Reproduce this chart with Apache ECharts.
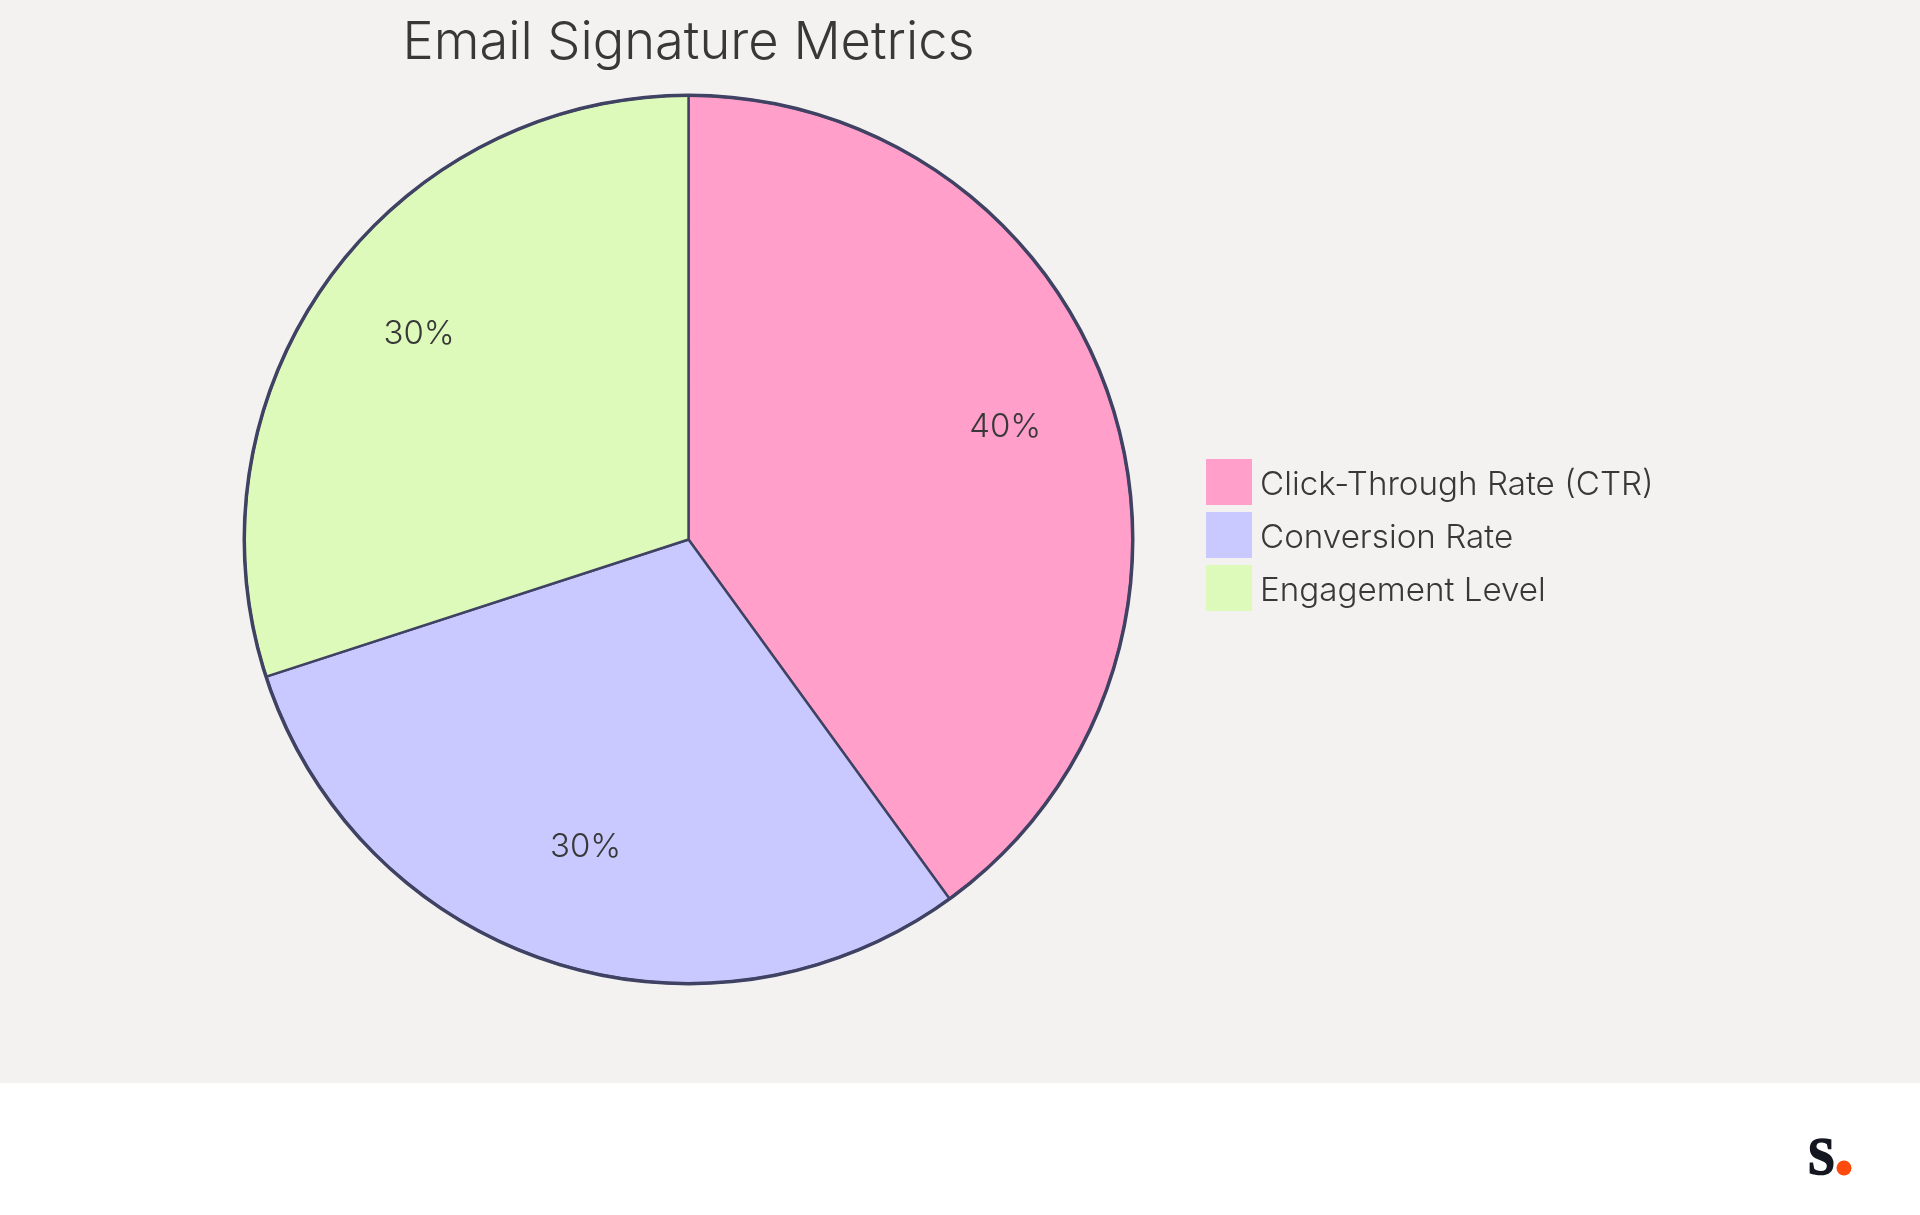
<!DOCTYPE html>
<html><head><meta charset="utf-8">
<style>html,body{margin:0;padding:0;background:#fff}#c{width:1920px;height:1215px}</style>
<script src="https://cdn.jsdelivr.net/npm/echarts@6/dist/echarts.min.js"></script>
</head><body><div id="c"></div>
<script>
const titleText = 'Email Signature Metrics';
const categories = ['Click-Through Rate (CTR)', 'Conversion Rate', 'Engagement Level'];
const values = [40, 30, 30];
const colors = ['#ff9fca', '#c9c9ff', '#ddfabb'];
const FONT = 'Inter, "Noto Sans", sans-serif';
const INK = '#383838', EDGE = '#404263';
const CENTER = [688.5, 539.5];
const data = categories.map((name, i) => ({name, value: values[i], itemStyle: {color: colors[i]}}));
const chart = echarts.init(document.getElementById('c'), null, {renderer: 'canvas'});
chart.setOption({
  animation: false,
  backgroundColor: '#ffffff',
  title: {text: titleText, left: 402.5, top: 17, padding: 0,
    textStyle: {fontFamily: FONT, fontSize: 52.4, fontWeight: 300, color: INK}},
  legend: {orient: 'vertical', left: 1206, top: 459, padding: 0, itemWidth: 46, itemHeight: 46, itemGap: 7,
    icon: 'rect', selectedMode: false, data: categories,
    formatter: name => '{t|' + name + '}',
    itemStyle: {borderWidth: 0},
    textStyle: {fontFamily: FONT, fontSize: 33.2, fontWeight: 300, color: INK,
      rich: {t: {fontFamily: FONT, fontSize: 33.2, fontWeight: 300, color: INK, lineHeight: 34, padding: [6, 0, 0, 3]}}}},
  graphic: [
    {type: 'rect', z: -10, silent: true, shape: {x: 0, y: 0, width: 1920, height: 1083}, style: {fill: '#f3f2f0'}},
    {type: 'text', z: 10, silent: true, left: 1807, top: 1133, scaleX: 0.92, style: {text: 'S', fontFamily: '"Liberation Serif", serif', fontWeight: 'bold', fontSize: 53, fill: '#14171f', stroke: '#14171f', lineWidth: 1.6}},
    {type: 'circle', z: 10, silent: true, shape: {cx: 1844, cy: 1168, r: 7.5}, style: {fill: '#ff4a0e'}}
  ],
  series: [
    {type: 'pie', name: 'slices', center: CENTER, radius: [0, 444], startAngle: 90, clockwise: true, silent: true,
      data, label: {show: false}, labelLine: {show: false},
      itemStyle: {borderColor: EDGE, borderWidth: 2.4}},
    {type: 'pie', name: 'labels', center: CENTER, radius: [216, 444], startAngle: 90, clockwise: true, silent: true,
      data: categories.map((name, i) => ({name, value: values[i], itemStyle: {color: 'transparent'}})),
      label: {show: true, position: 'inside', formatter: p => p.value + '%', offset: [0, -9.5], fontFamily: FONT, fontSize: 33, fontWeight: 300, color: INK},
      labelLine: {show: false}, itemStyle: {borderWidth: 0}, legendHoverLink: false},
    {type: 'pie', name: 'rim', center: CENTER, radius: [442.5, 446], silent: true,
      data: [{name: 'rim', value: 1, itemStyle: {color: EDGE}}], label: {show: false}, labelLine: {show: false}}
  ]
});
</script></body></html>
